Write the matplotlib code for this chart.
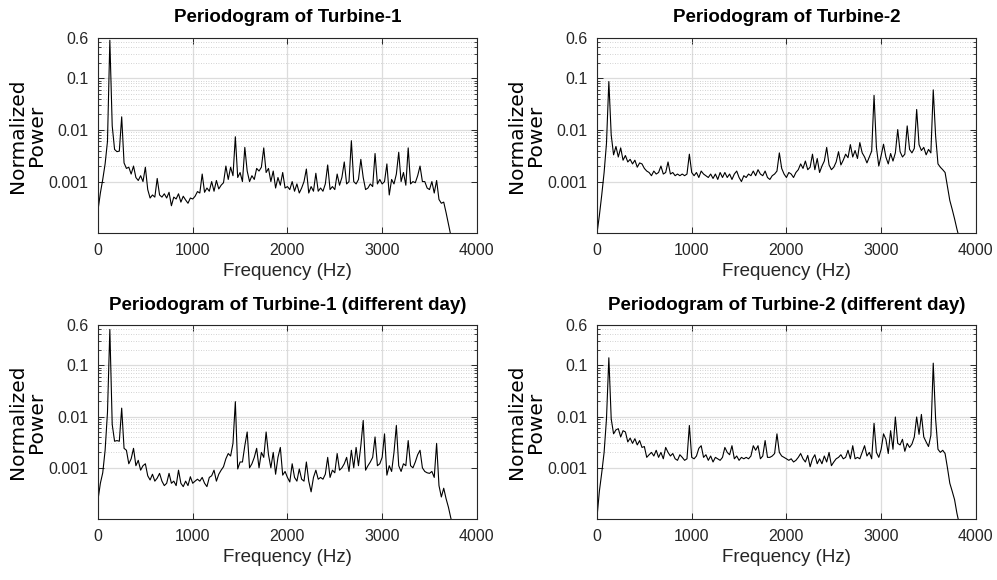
import matplotlib
matplotlib.use("Agg")
from matplotlib import pyplot as plt
from matplotlib import font_manager
from matplotlib.ticker import FixedLocator, FixedFormatter, NullFormatter, NullLocator
import numpy as np

FREQ_STEP = 25  # Hz between periodogram bins

# normalized power per bin (bins 0, 25, 50, ... Hz)
TURBINE_1 = [
    2.8e-4, 6e-4, 1.1e-3, 2.2e-3, 6e-3, 0.55, 0.012, 4.2e-3, 3.8e-3, 3.9e-3,
    0.018, 2.3e-3, 1.8e-3, 1.9e-3, 1.4e-3, 2.0e-3, 1.2e-3, 1.05e-3, 1.3e-3, 1.0e-3,
    1.9e-3, 7e-4, 4.8e-4, 5.5e-4, 5.0e-4, 1.15e-3, 5.5e-4, 5.0e-4, 5.8e-4, 4.8e-4,
    6.2e-4, 3.4e-4, 5.0e-4, 4.6e-4, 5.8e-4, 4.0e-4, 5.2e-4, 4.4e-4, 3.8e-4, 4.8e-4,
    4.6e-4, 5.2e-4, 6.4e-4, 6.0e-4, 1.4e-3, 6.2e-4, 7.5e-4, 6.5e-4, 1.0e-3, 6.5e-4,
    1.05e-3, 7.2e-4, 8.5e-4, 9.5e-4, 2.0e-3, 1.1e-3, 1.9e-3, 1.3e-3, 7.4e-3, 1.2e-3,
    1.5e-3, 1.0e-3, 4.6e-3, 1.6e-3, 1.0e-3, 1.3e-3, 1.1e-3, 1.8e-3, 1.6e-3, 1.9e-3,
    4.5e-3, 1.5e-3, 1.8e-3, 1.0e-3, 1.6e-3, 7.5e-4, 1.2e-3, 8.5e-4, 1.5e-3, 7.5e-4,
    8.0e-4, 7.0e-4, 1.0e-3, 6.5e-4, 9.0e-4, 6.0e-4, 7.5e-4, 1.0e-3, 1.75e-3, 6.0e-4,
    8.0e-4, 6.5e-4, 1.45e-3, 6.5e-4, 7.5e-4, 6.5e-4, 9.0e-4, 2.1e-3, 7.0e-4, 8.0e-4,
    7.0e-4, 1.4e-3, 8.5e-4, 1.2e-3, 2.4e-3, 9.0e-4, 1.0e-3, 6.2e-3, 1.0e-3, 9.0e-4,
    1.1e-3, 2.7e-3, 1.2e-3, 7.0e-4, 7.5e-4, 9.0e-4, 8.0e-4, 3.5e-3, 9.0e-4, 1.1e-3,
    9.0e-4, 1.0e-3, 2.2e-3, 5.5e-4, 1.1e-3, 9.0e-4, 1.4e-3, 3.7e-3, 1.0e-3, 1.5e-3,
    8.5e-4, 4.5e-3, 9.0e-4, 1.0e-3, 9.5e-4, 1.3e-3, 2.0e-3, 1.0e-3, 1.0e-3, 7.5e-4,
    7.0e-4, 1.0e-3, 6.0e-4, 1.05e-3, 4.5e-4, 3.8e-4, 4.0e-4, 2.5e-4, 1.5e-4, 9e-5,
]

TURBINE_2 = [
    1.0e-4, 2.2e-4, 5.5e-4, 1.5e-3, 5.5e-3, 0.087, 8e-3, 3.3e-3, 4.8e-3, 3.0e-3,
    4.5e-3, 2.6e-3, 3.2e-3, 2.4e-3, 2.7e-3, 2.2e-3, 2.6e-3, 1.9e-3, 2.3e-3, 2.2e-3,
    1.8e-3, 1.6e-3, 1.5e-3, 1.3e-3, 1.6e-3, 1.4e-3, 1.5e-3, 2.0e-3, 1.4e-3, 1.5e-3,
    2.4e-3, 1.4e-3, 1.5e-3, 1.3e-3, 1.4e-3, 1.3e-3, 1.4e-3, 1.3e-3, 1.4e-3, 3.4e-3,
    1.5e-3, 1.3e-3, 1.5e-3, 1.2e-3, 1.6e-3, 1.4e-3, 1.3e-3, 1.2e-3, 1.4e-3, 1.15e-3,
    1.4e-3, 1.1e-3, 1.5e-3, 1.2e-3, 1.5e-3, 1.2e-3, 1.4e-3, 1.1e-3, 1.4e-3, 1.6e-3,
    1.2e-3, 1.0e-3, 1.3e-3, 1.2e-3, 1.4e-3, 1.3e-3, 1.6e-3, 1.3e-3, 1.7e-3, 1.4e-3,
    1.3e-3, 1.6e-3, 1.2e-3, 1.1e-3, 1.3e-3, 1.4e-3, 1.6e-3, 3.6e-3, 1.8e-3, 1.4e-3,
    1.2e-3, 1.5e-3, 1.4e-3, 1.2e-3, 1.5e-3, 1.7e-3, 2.2e-3, 1.8e-3, 2.5e-3, 1.7e-3,
    1.9e-3, 3.4e-3, 1.7e-3, 2.8e-3, 1.5e-3, 2.0e-3, 2.5e-3, 4.6e-3, 2.1e-3, 1.7e-3,
    1.9e-3, 2.4e-3, 3.8e-3, 2.1e-3, 2.6e-3, 3.4e-3, 2.9e-3, 5.2e-3, 3.0e-3, 4.0e-3,
    2.8e-3, 5.7e-3, 3.6e-3, 3.0e-3, 2.3e-3, 3.0e-3, 3.9e-3, 0.047, 4.6e-3, 2.0e-3,
    3.2e-3, 5.3e-3, 3.0e-3, 2.2e-3, 3.5e-3, 2.5e-3, 3.6e-3, 0.0102, 3.8e-3, 3.0e-3,
    3.4e-3, 0.012, 4.2e-3, 3.6e-3, 4.4e-3, 0.025, 5.2e-3, 4.0e-3, 4.6e-3, 3.3e-3,
    4.2e-3, 3.6e-3, 0.06, 7.7e-3, 2.2e-3, 1.9e-3, 1.7e-3, 1.5e-3, 8e-4, 4.3e-4,
    2.9e-4, 1.9e-4, 1.2e-4, 8e-5,
]

TURBINE_1_DAY2 = [
    2.4e-4, 5e-4, 8e-4, 2.2e-3, 0.012, 0.5, 7e-3, 3.3e-3, 3.4e-3, 3.3e-3,
    0.0146, 2.4e-3, 2.2e-3, 1.2e-3, 1.5e-3, 2.4e-3, 1.1e-3, 1.4e-3, 9e-4, 1.1e-3,
    1.2e-3, 7e-4, 5.8e-4, 7.5e-4, 5.5e-4, 6.3e-4, 7.8e-4, 5.5e-4, 4.5e-4, 5.0e-4,
    7.8e-4, 5.0e-4, 5.5e-4, 4.5e-4, 9e-4, 5e-4, 4.3e-4, 5.5e-4, 4.5e-4, 6.7e-4,
    5.0e-4, 5.5e-4, 6.0e-4, 5.5e-4, 6.5e-4, 5.0e-4, 4.3e-4, 6.5e-4, 7.0e-4, 9.0e-4,
    5.5e-4, 7.5e-4, 9.0e-4, 1.05e-3, 1.5e-3, 1.9e-3, 1.7e-3, 3.0e-3, 0.0195, 9.5e-4,
    1.3e-3, 1.3e-3, 2.7e-3, 5.0e-3, 1.0e-3, 1.2e-3, 1.6e-3, 2.4e-3, 1.0e-3, 2.0e-3,
    1.6e-3, 5.0e-3, 1.8e-3, 1.0e-3, 2.0e-3, 7.5e-4, 1.6e-3, 2.5e-3, 7.2e-4, 8.5e-4,
    6.5e-4, 5.3e-4, 1.2e-3, 6.5e-4, 5.5e-4, 9.5e-4, 6.0e-4, 5.5e-4, 1.3e-3, 5.5e-4,
    3.4e-4, 6.5e-4, 9.0e-4, 6.0e-4, 6.5e-4, 6.0e-4, 7.5e-4, 1.6e-3, 6.5e-4, 9.0e-4,
    8.0e-4, 1.9e-3, 9.0e-4, 1.0e-3, 1.2e-3, 1.6e-3, 8.5e-4, 2.2e-3, 1.0e-3, 2.5e-3,
    1.1e-3, 2.7e-3, 8.4e-3, 9.0e-4, 1.1e-3, 1.3e-3, 1.6e-3, 4.0e-3, 1.1e-3, 1.2e-3,
    1.6e-3, 4.6e-3, 7.2e-4, 1.1e-3, 8.5e-4, 2.0e-3, 6.7e-3, 1.1e-3, 8.5e-4, 1.2e-3,
    1.1e-3, 3.4e-3, 1.1e-3, 1.0e-3, 1.3e-3, 1.8e-3, 2.2e-3, 1.0e-3, 8.5e-4, 8.0e-4,
    7.8e-4, 8.5e-4, 6.5e-4, 3.0e-3, 4.5e-4, 2.7e-4, 4.0e-4, 2.5e-4, 1.7e-4, 1.05e-4,
    7e-5,
]

TURBINE_2_DAY2 = [
    1.1e-4, 3.5e-4, 8e-4, 2.0e-3, 9e-3, 0.14, 9e-3, 4.6e-3, 5.5e-3, 5.8e-3,
    4.0e-3, 5.3e-3, 5.0e-3, 3.2e-3, 3.8e-3, 3.0e-3, 3.7e-3, 2.8e-3, 3.4e-3, 2.5e-3,
    2.6e-3, 1.6e-3, 1.8e-3, 2.0e-3, 1.7e-3, 2.2e-3, 1.6e-3, 2.0e-3, 1.5e-3, 2.5e-3,
    2.0e-3, 1.7e-3, 1.9e-3, 1.5e-3, 1.4e-3, 1.8e-3, 1.6e-3, 1.4e-3, 1.5e-3, 6.7e-3,
    1.6e-3, 1.5e-3, 1.7e-3, 2.4e-3, 2.7e-3, 1.6e-3, 1.8e-3, 1.4e-3, 1.7e-3, 1.3e-3,
    1.6e-3, 1.5e-3, 1.4e-3, 1.6e-3, 2.5e-3, 2.0e-3, 1.8e-3, 2.7e-3, 1.5e-3, 1.7e-3,
    1.4e-3, 1.6e-3, 1.5e-3, 1.6e-3, 1.5e-3, 1.7e-3, 2.7e-3, 2.2e-3, 2.7e-3, 1.5e-3,
    1.7e-3, 3.4e-3, 1.6e-3, 1.6e-3, 1.7e-3, 1.9e-3, 4.6e-3, 2.0e-3, 1.7e-3, 1.6e-3,
    1.5e-3, 1.4e-3, 1.5e-3, 1.3e-3, 1.4e-3, 1.6e-3, 1.9e-3, 1.5e-3, 1.3e-3, 1.75e-3,
    1.05e-3, 1.5e-3, 1.8e-3, 1.2e-3, 1.5e-3, 1.2e-3, 1.7e-3, 1.3e-3, 2.0e-3, 1.1e-3,
    1.3e-3, 1.5e-3, 1.6e-3, 1.8e-3, 1.5e-3, 1.6e-3, 2.2e-3, 1.5e-3, 2.7e-3, 1.5e-3,
    1.6e-3, 1.5e-3, 2.0e-3, 2.7e-3, 1.7e-3, 2.0e-3, 1.5e-3, 7.4e-3, 2.0e-3, 1.6e-3,
    2.3e-3, 4.6e-3, 3.6e-3, 1.9e-3, 5.3e-3, 2.3e-3, 9.8e-3, 3.0e-3, 2.8e-3, 3.6e-3,
    2.1e-3, 3.0e-3, 2.5e-3, 2.9e-3, 4.0e-3, 9.8e-3, 4.5e-3, 0.011, 4.0e-3, 3.2e-3,
    2.6e-3, 4.3e-3, 0.11, 9e-3, 2.3e-3, 2.0e-3, 2.2e-3, 1.9e-3, 1.0e-3, 5.0e-4,
    3.5e-4, 2.4e-4, 1.3e-4, 8e-5,
]

SERIES = [TURBINE_1, TURBINE_2, TURBINE_1_DAY2, TURBINE_2_DAY2]
TITLES = [
    "Periodogram of Turbine-1",
    "Periodogram of Turbine-2",
    "Periodogram of Turbine-1 (different day)",
    "Periodogram of Turbine-2 (different day)",
]
X_TICKS = [0, 1000, 2000, 3000, 4000]
Y_TICKS = [0.001, 0.01, 0.1, 0.6]
Y_TICK_LABELS = ["0.001", "0.01", "0.1", "0.6"]
Y_MINOR = [m * 10.0**e for e in (-3, -2, -1) for m in range(2, 10) if m * 10.0**e < 0.6]

INK = "#262626"


def pick_font(names, default):
    for name in names:
        try:
            font_manager.findfont(name, fallback_to_default=False)
            return name
        except ValueError:
            continue
    return default


sans = pick_font(["Liberation Sans", "Arial"], "DejaVu Sans")
title_font = dict(family=sans, size=13.5, weight="bold")

fig = plt.figure(figsize=(9.97, 5.8), dpi=100)

# axes boxes in figure fractions (left, bottom, width, height)
positions = [
    (0.0983, 0.598, 0.380, 0.336),
    (0.5988, 0.598, 0.380, 0.336),
    (0.0983, 0.105, 0.380, 0.334),
    (0.5988, 0.105, 0.380, 0.334),
]
title_pads = [12, 12, 11, 11]

for pos, values, title, tpad in zip(positions, SERIES, TITLES, title_pads):
    ax = fig.add_axes(pos)
    freqs = np.arange(len(values)) * FREQ_STEP
    ax.semilogy(freqs, values, color="black", lw=0.8)
    ax.set_xlim(0, 4000)
    ax.set_ylim(1e-4, 0.6)

    ax.xaxis.set_major_locator(FixedLocator(X_TICKS))
    ax.xaxis.set_minor_locator(NullLocator())
    ax.yaxis.set_major_locator(FixedLocator(Y_TICKS))
    ax.yaxis.set_major_formatter(FixedFormatter(Y_TICK_LABELS))
    ax.yaxis.set_minor_locator(FixedLocator(Y_MINOR))
    ax.yaxis.set_minor_formatter(NullFormatter())

    ax.set_axisbelow(True)
    ax.grid(True, which="major", color="#dcdcdc", lw=0.9, ls="-")
    ax.grid(True, which="minor", axis="y", color="#c4c4c4", lw=0.6, ls=(0, (1, 2)))

    ax.tick_params(which="both", direction="in", top=True, right=True, colors=INK,
                   labelsize=11.5, pad=7)
    ax.tick_params(which="major", length=4, width=0.7)
    ax.tick_params(which="minor", length=2, width=0.6)
    for lab in ax.get_xticklabels() + ax.get_yticklabels():
        lab.set_family(sans)
    for spine in ax.spines.values():
        spine.set_color(INK)
        spine.set_linewidth(0.8)

    ax.set_title(title, pad=tpad, color="black", **title_font)
    ax.set_xlabel("Frequency (Hz)", family=sans, size=13.5, color=INK, labelpad=4)
    ax.set_ylabel("Normalized\nPower", family="DejaVu Sans", size=14.5, color="black",
                  linespacing=0.95, labelpad=2)

fig.savefig("out.png", dpi=100)
